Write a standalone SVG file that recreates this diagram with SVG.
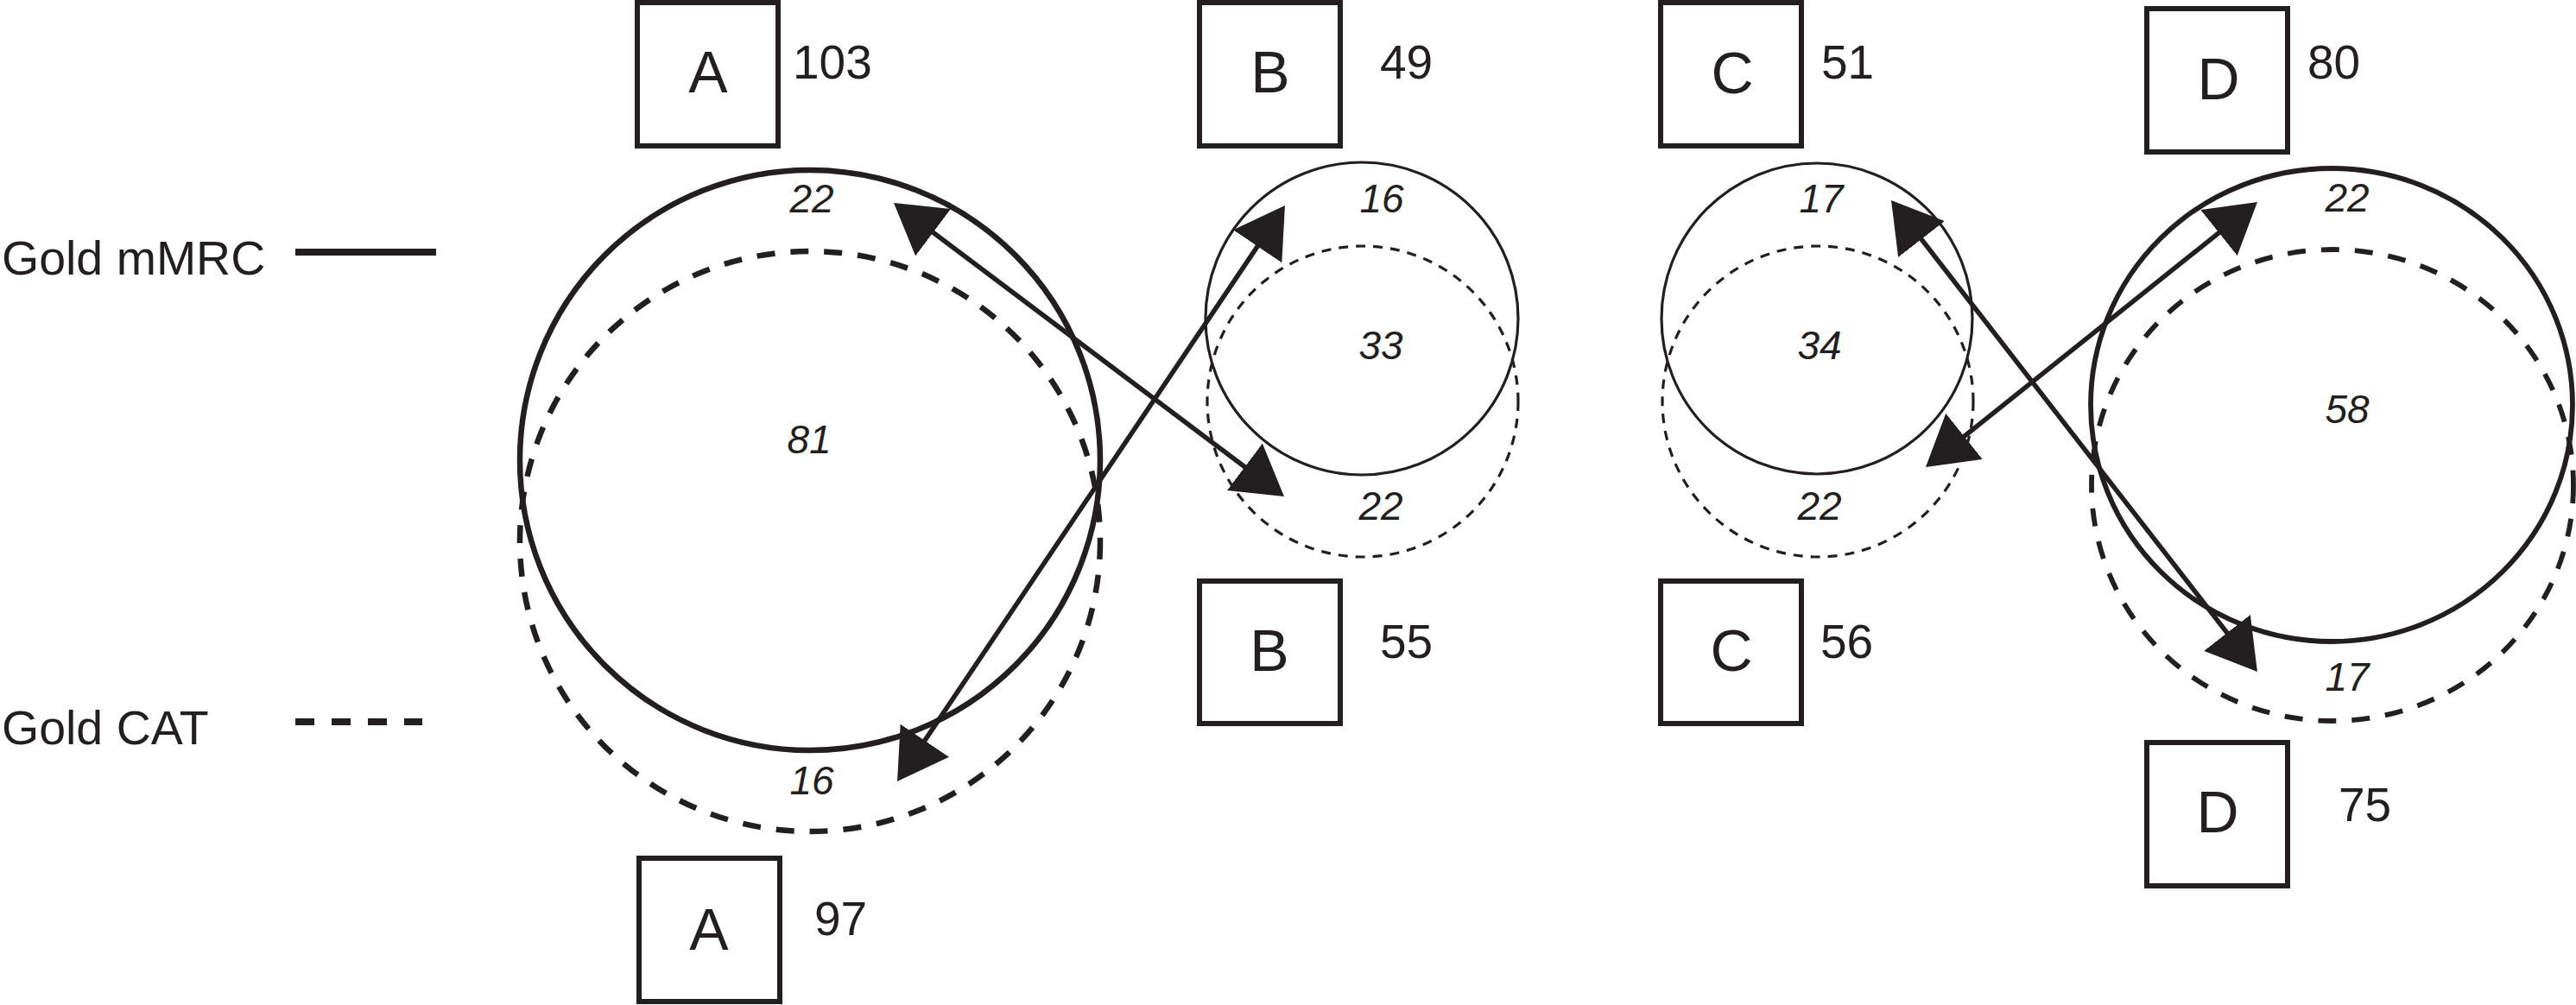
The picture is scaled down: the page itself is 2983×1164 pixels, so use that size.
<svg xmlns="http://www.w3.org/2000/svg" width="2983" height="1164" viewBox="0 0 2983 1164">
  <style>
    .box { fill: #ffffff; stroke: #231f20; stroke-width: 6; }
    .lbl { font-family: "Liberation Sans", Arial, sans-serif; font-size: 68px; fill: #231f20; text-anchor: middle; }
    .num { font-family: "Liberation Sans", Arial, sans-serif; font-size: 55px; fill: #231f20; }
    .leg { font-family: "Liberation Sans", Arial, sans-serif; font-size: 55.5px; fill: #231f20; }
    .reg { font-family: "Liberation Sans", Arial, sans-serif; font-size: 46px; font-style: italic; fill: #231f20; text-anchor: middle; }
    .solidThick { fill: none; stroke: #231f20; stroke-width: 6.5; }
    .dashThick { fill: none; stroke: #231f20; stroke-width: 6.5; stroke-dasharray: 21 18; }
    .solidThin { fill: none; stroke: #231f20; stroke-width: 3.2; }
    .dashThin { fill: none; stroke: #231f20; stroke-width: 3.2; stroke-dasharray: 11 9; }
    .conn { fill: none; stroke: #231f20; stroke-width: 5.5; marker-start: url(#head); marker-end: url(#head); }
  </style>
  <defs>
    <marker id="head" markerUnits="userSpaceOnUse" viewBox="0 0 57 68" markerWidth="57" markerHeight="68" refX="37" refY="34" orient="auto-start-reverse">
      <path d="M0,0 L57,34 L0,68 Z" fill="#231f20"/>
    </marker>
  </defs>
  <rect width="2983" height="1164" fill="#ffffff"/>

  <g id="legend">
    <text class="leg" x="2" y="318">Gold mMRC</text>
    <line x1="342" y1="292" x2="505" y2="292" stroke="#231f20" stroke-width="8"/>
    <text class="leg" x="2" y="862">Gold CAT</text>
    <line x1="342" y1="836" x2="489" y2="836" stroke="#231f20" stroke-width="8" stroke-dasharray="22 20"/>
  </g>

  <g id="venn-A">
    <circle class="solidThick" cx="938" cy="533" r="336"/>
    <circle class="dashThick" cx="938" cy="627" r="336"/>
    <text class="reg" x="940" y="246">22</text>
    <text class="reg" x="937" y="525">81</text>
    <text class="reg" x="940" y="920">16</text>
  </g>
  <g id="venn-B">
    <circle class="solidThin" cx="1577" cy="369" r="181"/>
    <circle class="dashThin" cx="1578" cy="465" r="180"/>
    <text class="reg" x="1600" y="246">16</text>
    <text class="reg" x="1599" y="416">33</text>
    <text class="reg" x="1599" y="602">22</text>
  </g>
  <g id="venn-C">
    <circle class="solidThin" cx="2104" cy="369" r="180"/>
    <circle class="dashThin" cx="2105" cy="465" r="180"/>
    <text class="reg" x="2109" y="246">17</text>
    <text class="reg" x="2107" y="416">34</text>
    <text class="reg" x="2107" y="602">22</text>
  </g>
  <g id="venn-D">
    <ellipse class="solidThick" cx="2700" cy="469" rx="279" ry="274" style="stroke-width:5.8"/>
    <ellipse class="dashThick" cx="2701" cy="562" rx="279" ry="273" style="stroke-width:5.8"/>
    <text class="reg" x="2718" y="245">22</text>
    <text class="reg" x="2718" y="490">58</text>
    <text class="reg" x="2718" y="800">17</text>
  </g>

  <g id="box-A-top">
    <rect class="box" x="738" y="3" width="163" height="166"/>
    <text class="lbl" x="820" y="107">A</text>
    <text class="num" x="918" y="91">103</text>
  </g>
  <g id="box-B-top">
    <rect class="box" x="1389" y="3" width="163" height="166"/>
    <text class="lbl" x="1471" y="107">B</text>
    <text class="num" x="1598" y="91">49</text>
  </g>
  <g id="box-C-top">
    <rect class="box" x="1923" y="3" width="163" height="166"/>
    <text class="lbl" x="2006" y="108">C</text>
    <text class="num" x="2109" y="91">51</text>
  </g>
  <g id="box-D-top">
    <rect class="box" x="2486" y="10" width="163" height="166"/>
    <text class="lbl" x="2569" y="115">D</text>
    <text class="num" x="2672" y="91">80</text>
  </g>
  <g id="box-A-bottom">
    <rect class="box" x="740" y="994" width="163" height="166"/>
    <text class="lbl" x="821" y="1100">A</text>
    <text class="num" x="943" y="1083">97</text>
  </g>
  <g id="box-B-bottom">
    <rect class="box" x="1389" y="673" width="163" height="165"/>
    <text class="lbl" x="1470" y="777">B</text>
    <text class="num" x="1598" y="762">55</text>
  </g>
  <g id="box-C-bottom">
    <rect class="box" x="1923" y="673" width="163" height="165"/>
    <text class="lbl" x="2005" y="777">C</text>
    <text class="num" x="2108" y="762">56</text>
  </g>
  <g id="box-D-bottom">
    <rect class="box" x="2486" y="860" width="163" height="166"/>
    <text class="lbl" x="2568" y="964">D</text>
    <text class="num" x="2708" y="951">75</text>
  </g>

  <g id="connectors">
    <line class="conn" x1="1051" y1="247" x2="1471" y2="563"/>
    <line class="conn" x1="1476.8" y1="254.6" x2="1050.2" y2="888.4"/>
    <line class="conn" x1="2202.3" y1="247.8" x2="2601.7" y2="762.2"/>
    <line class="conn" x1="2598.4" y1="246.5" x2="2245.6" y2="528.5"/>
  </g>
</svg>
